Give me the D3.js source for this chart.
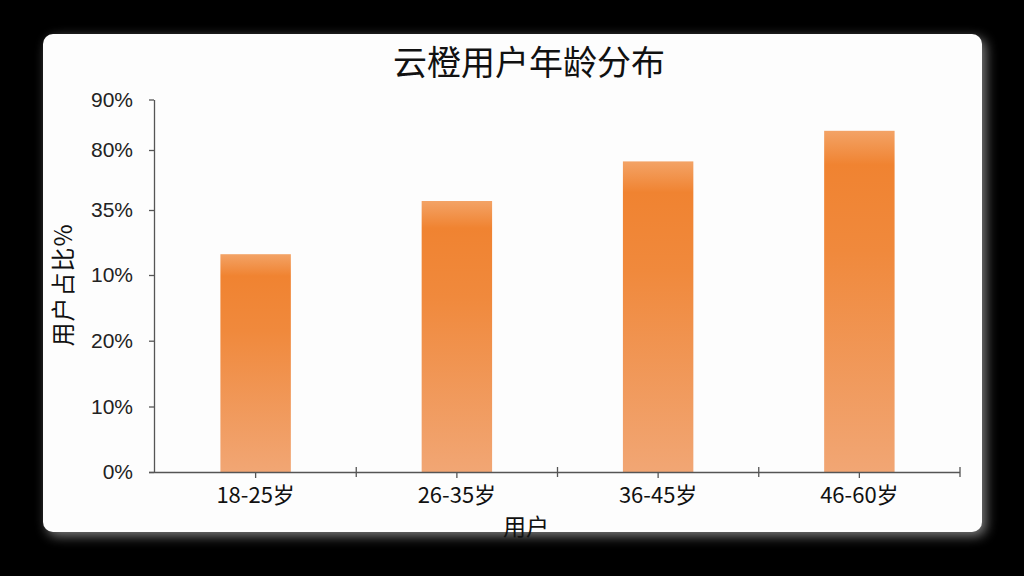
<!DOCTYPE html>
<html>
<head>
<meta charset="utf-8">
<script src="https://cdn.jsdelivr.net/npm/d3@7"></script>
<style>
  body { margin: 0; background: #000; }
  svg { display: block; }
</style>
</head>
<body>
<script>
// data
var ageGroups = ["18-25岁", "26-35岁", "36-45岁", "46-60岁"];
var shares = [33.2, 41.5, 48.1, 53.8];
var tickSteps = [0, 10, 20, 30, 40, 50, 60];
var tickLabels = ["0%", "10%", "20%", "10%", "35%", "80%", "90%"];

var w = 1024, h = 576;

var svg = d3.select("body").append("svg")
    .attr("width", w)
    .attr("height", h);

var defs = svg.append("defs");

var shadow = defs.append("filter").attr("id", "cardShadow")
    .attr("x", "-5%").attr("y", "-5%").attr("width", "110%").attr("height", "115%");
shadow.append("feDropShadow")
    .attr("dx", 4).attr("dy", 4)
    .attr("stdDeviation", 6)
    .attr("flood-color", "#9a9a9a")
    .attr("flood-opacity", 0.8);

var grad = defs.append("linearGradient").attr("id", "barGrad")
    .attr("x1", 0).attr("y1", 0).attr("x2", 0).attr("y2", 1);
grad.append("stop").attr("offset", "0").attr("stop-color", "#f3a366");
grad.append("stop").attr("offset", "0.1").attr("stop-color", "#f08331");
grad.append("stop").attr("offset", "0.35").attr("stop-color", "#f0893c");
grad.append("stop").attr("offset", "1").attr("stop-color", "#f1a674");

svg.append("rect")
    .attr("width", w).attr("height", h)
    .attr("fill", "#000");

svg.append("rect")
    .attr("x", 43).attr("y", 34)
    .attr("width", 939).attr("height", 498)
    .attr("rx", 10)
    .attr("fill", "#fdfdfd")
    .attr("filter", "url(#cardShadow)");

svg.append("text")
    .attr("x", 529).attr("y", 75)
    .attr("text-anchor", "middle")
    .attr("font-family", "'Noto Sans CJK SC'")
    .attr("font-size", 34)
    .attr("font-weight", 400)
    .attr("fill", "#111")
    .text("云橙用户年龄分布");

var yScale = d3.scaleLinear()
    .domain(tickSteps)
    .range([472, 406.5, 340.7, 275, 210, 150, 99.5]);

var xScale = d3.scaleBand()
    .domain(ageGroups)
    .range([155, 960])
    .paddingInner(0.65)
    .paddingOuter(0.325);

var step = xScale.step();

svg.selectAll(".bar")
    .data(ageGroups)
    .enter().append("rect")
    .attr("class", "bar")
    .attr("x", function (d) { return xScale(d) })
    .attr("width", xScale.bandwidth())
    .attr("y", function (d, i) { return yScale(shares[i]) })
    .attr("height", function (d, i) { return yScale(0) - yScale(shares[i]) })
    .attr("fill", "url(#barGrad)");

// y axis
var yAxis = d3.axisLeft(yScale)
    .tickValues(tickSteps)
    .tickSize(5)
    .tickSizeOuter(0)
    .tickPadding(16)
    .tickFormat(function (d, i) { return tickLabels[i] });

var gy = svg.append("g")
    .attr("class", "axisy")
    .attr("transform", "translate(154,0)")
    .call(yAxis);
gy.select(".domain").attr("stroke", "#555").attr("stroke-width", 1.3);
gy.selectAll(".tick line").attr("stroke", "#555").attr("stroke-width", 1.3);
gy.selectAll(".tick text")
    .attr("font-family", "'Liberation Sans', Arial")
    .attr("font-size", 21)
    .attr("fill", "#222");

// x axis
var xAxis = d3.axisBottom(xScale)
    .tickSize(6)
    .tickSizeOuter(0)
    .tickPadding(9);

var gx = svg.append("g")
    .attr("class", "axis")
    .attr("transform", "translate(0,472)")
    .call(xAxis);
gx.select(".domain").attr("d", "M149,0.5H960").attr("stroke", "#555").attr("stroke-width", 1.3);
gx.selectAll(".tick line").attr("stroke", "#555").attr("stroke-width", 1.3);
gx.selectAll(".tick text")
    .attr("font-family", "'Noto Sans CJK SC'")
    .attr("font-size", 22)
    .attr("fill", "#111");

gx.selectAll(".sep")
    .data(ageGroups)
    .enter().append("line")
    .attr("class", "sep")
    .attr("x1", function (d) { return xScale(d) + xScale.bandwidth() + xScale.paddingInner() * step / 2 })
    .attr("x2", function (d) { return xScale(d) + xScale.bandwidth() + xScale.paddingInner() * step / 2 })
    .attr("y1", -5).attr("y2", 5)
    .attr("stroke", "#555").attr("stroke-width", 1.3);

// axis titles
svg.append("text")
    .attr("x", 526).attr("y", 535)
    .attr("text-anchor", "middle")
    .attr("font-family", "'Noto Sans CJK SC'")
    .attr("font-size", 23)
    .attr("fill", "#111")
    .text("用户");

svg.append("text")
    .attr("transform", "translate(72,285) rotate(-90)")
    .attr("text-anchor", "middle")
    .attr("font-family", "'Noto Sans CJK SC'")
    .attr("font-size", 24)
    .attr("letter-spacing", 1)
    .attr("fill", "#111")
    .text("用户占比%");
</script>
</body>
</html>
